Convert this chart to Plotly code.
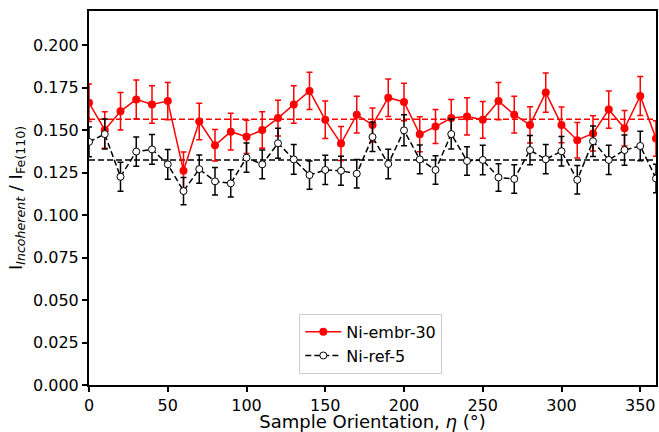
import plotly.graph_objects as go

eta = list(range(0, 361, 10))

embr_vals = [0.166, 0.150, 0.161, 0.168, 0.165, 0.167, 0.126, 0.155, 0.141, 0.149,
             0.146, 0.150, 0.157, 0.165, 0.173, 0.156, 0.142, 0.159, 0.153, 0.169,
             0.1665, 0.1475, 0.152, 0.157, 0.158, 0.156, 0.167, 0.159, 0.153, 0.172,
             0.153, 0.144, 0.148, 0.162, 0.151, 0.170, 0.145]
embr_err = [0.011, 0.0108, 0.011, 0.0114, 0.011, 0.011, 0.011, 0.0108, 0.0093, 0.0108,
            0.0098, 0.0108, 0.0105, 0.011, 0.011, 0.011, 0.010, 0.0108, 0.010, 0.011,
            0.011, 0.0103, 0.010, 0.011, 0.011, 0.0108, 0.011, 0.0108, 0.0107, 0.0115,
            0.0105, 0.0104, 0.0104, 0.011, 0.0104, 0.0115, 0.0105]

ref_vals = [0.143, 0.1476, 0.1225, 0.1373, 0.1386, 0.1298, 0.1141, 0.127, 0.1198, 0.1186,
            0.1337, 0.1298, 0.1422, 0.1327, 0.1235, 0.1265, 0.126, 0.1243, 0.1459, 0.130,
            0.1498, 0.1327, 0.1265, 0.1476, 0.1318, 0.1324, 0.1221, 0.1212, 0.1382, 0.1328,
            0.1375, 0.1207, 0.1434, 0.1324, 0.1382, 0.1406, 0.1215]
ref_err = [0.0087, 0.0088, 0.0085, 0.0086, 0.0088, 0.0088, 0.008, 0.0083, 0.0081, 0.008,
           0.0086, 0.0085, 0.0088, 0.0088, 0.0083, 0.0086, 0.0085, 0.0084, 0.0086, 0.0087,
           0.0091, 0.0085, 0.0084, 0.0088, 0.0084, 0.0087, 0.0081, 0.0084, 0.0086, 0.0086,
           0.0087, 0.0084, 0.009, 0.0086, 0.0089, 0.0087, 0.0084]

embr_mean = 0.1563
ref_mean = 0.1324

x_ticks = [0, 50, 100, 150, 200, 250, 300, 350]
y_ticks = [0.0, 0.025, 0.05, 0.075, 0.1, 0.125, 0.15, 0.175, 0.2]

FONT = "DejaVu Sans"

fig = go.Figure()

fig.add_trace(go.Scatter(
    x=eta, y=embr_vals, name="Ni-embr-30", mode="lines+markers",
    line=dict(color="red", width=1.5),
    marker=dict(color="red", size=8, symbol="circle", line=dict(color="red", width=0)),
    error_y=dict(type="data", array=embr_err, visible=True, color="red", thickness=1.5, width=3),
))
fig.add_trace(go.Scatter(
    x=eta, y=ref_vals, name="Ni-ref-5", mode="lines+markers",
    line=dict(color="black", width=1.5, dash="6px,3px"),
    marker=dict(color="white", size=7, symbol="circle", line=dict(color="black", width=1)),
    error_y=dict(type="data", array=ref_err, visible=True, color="black", thickness=1.5, width=3),
))

for val, col in [(embr_mean, "red"), (ref_mean, "black")]:
    fig.add_shape(type="line", xref="paper", x0=0, x1=1, yref="y", y0=val, y1=val,
                  line=dict(color=col, width=1.5, dash="6px,3px"), layer="below")

fig.update_layout(
    width=659, height=432,
    margin=dict(l=89, r=1, t=11, b=47),
    paper_bgcolor="white", plot_bgcolor="white",
    font=dict(family=FONT, color="black", size=16),
    showlegend=True,
    legend=dict(x=0.497, xanchor="center", y=0.03, yanchor="bottom",
                bgcolor="rgba(255,255,255,0.8)", bordercolor="#cccccc", borderwidth=1,
                font=dict(family=FONT, size=16), tracegroupgap=0, itemwidth=36),
)
fig.update_xaxes(
    range=[0, 360], tickvals=x_ticks, ticktext=[str(v) for v in x_ticks],
    showgrid=False, zeroline=False, showline=True, linecolor="black", linewidth=2, mirror=True,
    ticks="outside", ticklen=5, tickwidth=1.5, tickcolor="black",
    tickfont=dict(family=FONT, size=16),
    title=dict(text="Sample Orientation, <i>η</i> (°)", font=dict(family=FONT, size=18), standoff=2),
)
fig.update_yaxes(
    range=[0, 0.22], tickvals=y_ticks, ticktext=[f"{v:.3f}" for v in y_ticks],
    showgrid=False, zeroline=False, showline=True, linecolor="black", linewidth=2, mirror=True,
    ticks="outside", ticklen=5, tickwidth=1.5, tickcolor="black",
    tickfont=dict(family=FONT, size=16),
    title=dict(text="I<sub><i>Incoherent</i></sub> / I<sub>Fe(110)</sub>",
               font=dict(family=FONT, size=18), standoff=6),
)

fig.write_html("out.html")
